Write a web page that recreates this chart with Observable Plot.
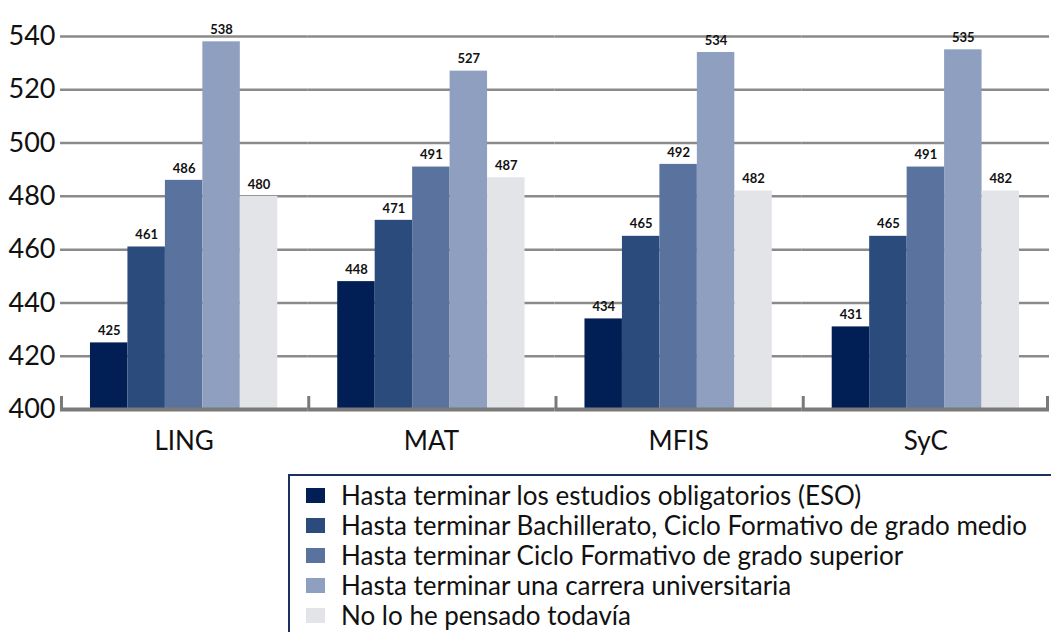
<!DOCTYPE html>
<html>
<head>
<meta charset="utf-8">
<script src="https://cdn.jsdelivr.net/npm/d3@7"></script>
<script src="https://cdn.jsdelivr.net/npm/@observablehq/plot@0.6"></script>
<style>
  html, body { margin: 0; padding: 0; background: #fff; overflow: hidden; }
  #wrap { position: relative; width: 1051px; height: 632px; font-family: Lato, "Open Sans", sans-serif; }
  #legend {
    position: absolute; left: 288px; top: 474px; width: 780px; height: 170px;
    border: 2px solid #1c3160; box-sizing: border-box; padding: 4px 0 0 16px;
  }
  .row { display: flex; align-items: center; height: 30px; font-size: 26px; color: #111; white-space: nowrap; }
  .sw { width: 19px; height: 15px; margin-right: 16px; flex: none; }
</style>
</head>
<body>
<div id="wrap">
  <div id="chart"></div>
  <div id="legend"></div>
</div>
<script>
const categories = ["LING", "MAT", "MFIS", "SyC"];
const series = [
  "Hasta terminar los estudios obligatorios (ESO)",
  "Hasta terminar Bachillerato, Ciclo Formativo de grado medio",
  "Hasta terminar Ciclo Formativo de grado superior",
  "Hasta terminar una carrera universitaria",
  "No lo he pensado todavía"
];
const colors = ["#021f55", "#2a4b7c", "#5a729e", "#8e9fbf", "#e3e4e8"];
const valuesESO = [425, 448, 434, 431];
const valuesBach = [461, 471, 465, 465];
const valuesSup = [486, 491, 492, 491];
const valuesUni = [538, 527, 534, 535];
const valuesNo = [480, 487, 482, 482];
const yTicks = [400, 420, 440, 460, 480, 500, 520, 540];
const yDomain = [400, 540];

const seriesValues = [valuesESO, valuesBach, valuesSup, valuesUni, valuesNo];
const data = [];
categories.forEach((c, i) => {
  series.forEach((s, j) => data.push({cat: c, series: s, value: seriesValues[j][i]}));
});

const plot = Plot.plot({
  width: 1051,
  height: 468,
  marginLeft: 60,
  marginRight: 2,
  marginTop: 36,
  marginBottom: 59,
  style: {fontFamily: "Lato, 'Open Sans', sans-serif", background: "#fff"},
  fx: {domain: categories, padding: 0, round: false},
  x: {domain: series, paddingInner: 0, paddingOuter: 0.8, round: false, axis: null},
  y: {domain: yDomain},
  color: {domain: series, range: colors},
  marks: [
    Plot.ruleY(yTicks.filter(d => d > yDomain[0]), {stroke: "#8a8a8a", strokeWidth: 2.5}),
    Plot.barY(data, {fx: "cat", x: "series", y1: yDomain[0], y2: "value", fill: "series"}),
    Plot.text(data, {fx: "cat", x: "series", y: "value", text: d => String(d.value), dy: -12,
      fontSize: 13, fontWeight: "bold", fill: "#111"}),
    Plot.ruleY([yDomain[0]], {stroke: "#7a7a7a", strokeWidth: 4}),
    Plot.axisY({ticks: yTicks, tickSize: 0, tickPadding: 5, fontSize: 27, fill: "#111", label: null}),
    Plot.axisFx({anchor: "bottom", tickSize: 0, tickPadding: 22, fontSize: 26, fill: "#111", label: null})
  ]
});
document.getElementById("chart").appendChild(plot);

// boundary ticks on the baseline, positioned with Plot's fx and y scales
const fx = plot.scale("fx"), ys = plot.scale("y");
const y0 = ys.apply(yDomain[0]);
const edges = categories.map(c => fx.apply(c));
edges.push(fx.apply(categories[categories.length - 1]) + fx.bandwidth);
d3.select(plot).append("g").selectAll("line").data(edges).join("line")
  .attr("x1", d => d === edges[edges.length - 1] ? d - 1.5 : d + 1.5)
  .attr("x2", d => d === edges[edges.length - 1] ? d - 1.5 : d + 1.5)
  .attr("y1", y0 - 13).attr("y2", y0)
  .attr("stroke", "#7a7a7a").attr("stroke-width", 3);

const legend = d3.select("#legend");
series.forEach((s, i) => {
  const row = legend.append("div").attr("class", "row");
  row.append("div").attr("class", "sw").style("background", colors[i]);
  row.append("span").text(s);
});
</script>
</body>
</html>
